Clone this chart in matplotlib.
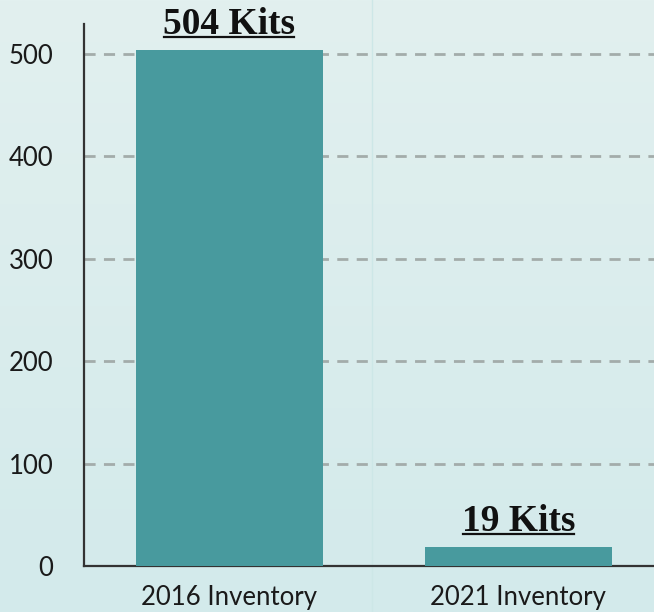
import matplotlib
matplotlib.use("Agg")
import matplotlib.pyplot as plt
import numpy as np
from matplotlib.lines import Line2D
from matplotlib.colors import LinearSegmentedColormap

categories = ["2016 Inventory", "2021 Inventory"]
values = [504, 19]
value_labels = ["504 Kits", "19 Kits"]
yticks = [0, 100, 200, 300, 400, 500]

BAR = "#489A9E"
fig = plt.figure(figsize=(6.54, 6.12), dpi=100)

# background gradient
bg = fig.add_axes([0, 0, 1, 1], zorder=-10)
grad = np.linspace(0, 1, 256).reshape(-1, 1)
cmap = LinearSegmentedColormap.from_list("bg", ["#E2F0EF", "#D3EAEB"])
bg.imshow(grad, aspect="auto", cmap=cmap, extent=[0, 1, 0, 1], origin="upper")
bg.axvline(372 / 654, color="#CDE7E7", lw=1)
bg.set_xlim(0, 1); bg.set_ylim(0, 1)
bg.axis("off")

ax = fig.add_axes([84 / 654, 46 / 612, 1 - 84 / 654, (566 - 24) / 612])
ax.patch.set_alpha(0)
x = np.arange(len(categories))
ax.bar(x, values, width=0.647, color=BAR, zorder=3)
ax.set_xlim(-0.503, 1.469)
ax.set_ylim(0, 529)
ax.set_yticks(yticks)
ax.set_xticks(x)
ax.set_xticklabels(categories, fontfamily="Lato", fontsize=18.5, color="#1a1a1a")
ax.set_yticklabels([str(v) for v in yticks], fontfamily="Lato", fontsize=18.5, color="#1a1a1a")
ax.tick_params(axis="both", length=0)
ax.tick_params(axis="y", pad=22)
ax.tick_params(axis="x", pad=14)
ax.yaxis.grid(True, color="#A3ACAA", lw=2, ls=(0, (4, 3)), zorder=1)
ax.set_axisbelow(True)
for s in ["top", "right"]:
    ax.spines[s].set_visible(False)
for s in ["left", "bottom"]:
    ax.spines[s].set_color("#333333")
    ax.spines[s].set_linewidth(1.6)

OFFSET_PT = 11.5
texts = []
for xi, v, lab in zip(x, values, value_labels):
    t = ax.annotate(lab, (xi, v), xytext=(0, OFFSET_PT), textcoords="offset points",
                    ha="center", va="baseline", fontfamily="Liberation Serif",
                    fontweight="bold", fontsize=27, color="#111111", zorder=5)
    texts.append((t, xi, v))

fig.canvas.draw()
r = fig.canvas.get_renderer()
inv = fig.transFigure.inverted()
for t, xi, v in texts:
    bb = t.get_window_extent(r)
    _, ybase = ax.transData.transform((xi, v))
    ybase += OFFSET_PT * fig.dpi / 72.0
    y = ybase - 3.5
    x0, x1 = bb.x0 + 1, bb.x1 - 1
    (fx0, fy), (fx1, _) = inv.transform([(x0, y), (x1, y)])
    fig.add_artist(Line2D([fx0, fx1], [fy, fy], color="#111111", lw=1.6))

fig.savefig("out.png", dpi=100)
